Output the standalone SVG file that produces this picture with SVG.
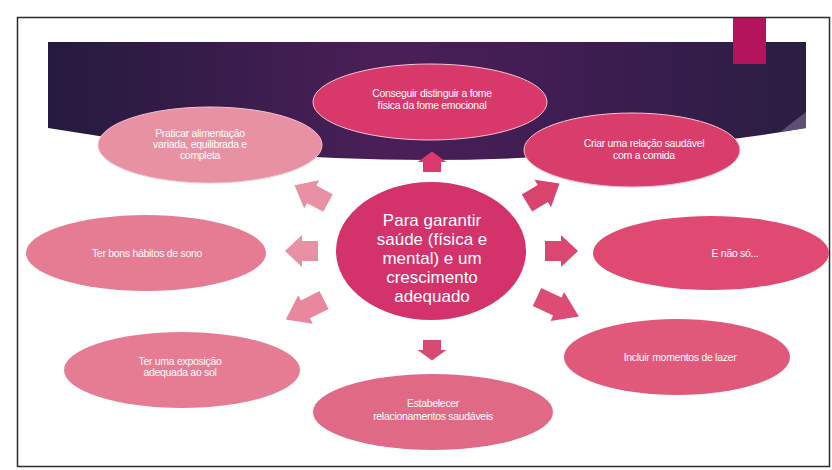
<svg xmlns="http://www.w3.org/2000/svg" width="832" height="470" viewBox="0 0 832 470">
<defs>
<linearGradient id="ban" x1="0" y1="0" x2="1" y2="0">
<stop offset="0" stop-color="#261a3e"/>
<stop offset="0.45" stop-color="#4a1f58"/>
<stop offset="0.7" stop-color="#3e1d52"/>
<stop offset="1" stop-color="#2a1d42"/>
</linearGradient>
<path id="arr" d="M0,-10 H16 V-16 L33,0 L16,16 V10 H0 Z"/>
<style>
.t{font-family:"Liberation Sans",Arial,sans-serif;fill:#ffffff;text-anchor:middle;letter-spacing:-0.3px}
.s{font-size:10.5px}
.c{font-size:17px;letter-spacing:0}
.e{stroke:#f6c3d0;stroke-width:1}
</style>
</defs>
<rect x="0" y="0" width="832" height="470" fill="#ffffff"/>
<rect x="17.5" y="17.5" width="812" height="449" fill="#ffffff" stroke="#2b2b2b" stroke-width="1.5"/>
<path d="M48,42 H806 V128 Q427,192 48,128 Z" fill="url(#ban)"/>
<path d="M780,132 L806,112 V128 Z" fill="#6b5a82" opacity="0.8"/>
<rect x="733" y="18" width="33" height="46" fill="#b3145c"/>

<g id="connectors">
<use href="#arr" transform="translate(432,172) rotate(-90) scale(0.62,0.9)" fill="#d9396b"/>
<use href="#arr" transform="translate(432,340) rotate(90) scale(0.62,0.9)" fill="#d94a72"/>
<use href="#arr" transform="translate(318,251) rotate(180)" fill="#e891a4"/>
<use href="#arr" transform="translate(328,203) rotate(-152) scale(1.15,1)" fill="#e891a4"/>
<use href="#arr" transform="translate(324,300) rotate(153) scale(1.3,1)" fill="#e8879e"/>
<use href="#arr" transform="translate(527,203) rotate(-31) scale(1.15,1)" fill="#d9446f"/>
<use href="#arr" transform="translate(545,251)" fill="#da4772"/>
<use href="#arr" transform="translate(537,297) rotate(25) scale(1.4,1)" fill="#dc4c75"/>
</g>

<g id="n-top">
<ellipse class="e" cx="430" cy="102" rx="117" ry="38" fill="#d9386b"/>
<text class="t s" x="432" y="97">Conseguir distinguir a fome</text>
<text class="t s" x="432" y="109">física da fome emocional</text>
</g>
<g id="n-praticar">
<ellipse class="e" cx="210" cy="145" rx="112" ry="38" fill="#e891a3"/>
<text class="t s" x="200" y="137">Praticar alimentação</text>
<text class="t s" x="200" y="148">variada, equilibrada e</text>
<text class="t s" x="200" y="159">completa</text>
</g>
<g id="n-criar">
<ellipse class="e" cx="632" cy="150" rx="108" ry="37" fill="#d93d6c"/>
<text class="t s" x="644" y="147">Criar uma relação saudável</text>
<text class="t s" x="644" y="159">com a comida</text>
</g>
<g id="n-sono">
<ellipse cx="146" cy="253" rx="120" ry="38" fill="#e67c93"/>
<text class="t s" x="147" y="257">Ter bons hábitos de sono</text>
</g>
<g id="n-naoso">
<ellipse cx="711" cy="253" rx="118" ry="37" fill="#e04a72"/>
<text class="t s" x="735" y="257">E não só...</text>
</g>
<g id="n-sol">
<ellipse cx="182" cy="370" rx="118" ry="38" fill="#e67c93"/>
<text class="t s" x="180" y="365">Ter uma exposição</text>
<text class="t s" x="180" y="376">adequada ao sol</text>
</g>
<g id="n-relac">
<ellipse cx="433" cy="412" rx="120" ry="38" fill="#e06a86"/>
<text class="t s" x="433" y="407">Estabelecer</text>
<text class="t s" x="433" y="420">relacionamentos saudáveis</text>
</g>
<g id="n-lazer">
<ellipse cx="677" cy="357" rx="113" ry="38" fill="#e0587a"/>
<text class="t s" x="680" y="361">Incluir momentos de lazer</text>
</g>
<g id="n-centro">
<ellipse cx="431" cy="251" rx="95" ry="69" fill="#d3336a"/>
<text class="t c" x="432" y="226">Para garantir</text>
<text class="t c" x="432" y="245">saúde (física e</text>
<text class="t c" x="432" y="264">mental) e um</text>
<text class="t c" x="432" y="283">crescimento</text>
<text class="t c" x="432" y="302">adequado</text>
</g>
</svg>
